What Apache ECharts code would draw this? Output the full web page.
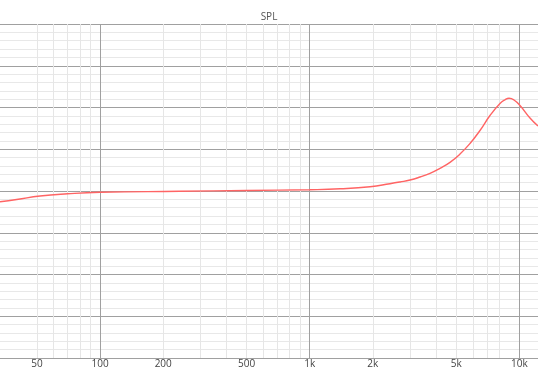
<!DOCTYPE html>
<html><head><meta charset="utf-8">
<script src="https://cdn.jsdelivr.net/npm/echarts@6/dist/echarts.min.js"></script>
<style>html,body{margin:0;padding:0;background:#fff}#c{width:538px;height:382px}</style>
</head><body><div id="c"></div>
<script>
// Frequency (Hz) and SPL (dB)
const freqs = [33.3, 40, 51.7, 70, 100, 240, 500, 1000, 1400, 1939, 2414, 2695, 3008, 3357, 3747, 4181, 4667, 5209, 5813, 6488, 7241, 8083, 8541, 8924, 9426, 10069, 11236, 12268];
const spl   = [77.43, 77.96, 78.80, 79.33, 79.69, 79.93, 80.12, 80.31, 80.53, 81.03, 81.75, 82.16, 82.63, 83.35, 84.24, 85.44, 86.87, 88.86, 91.38, 94.49, 98.08, 100.96, 101.84, 102.20, 101.80, 100.48, 97.49, 95.57];
const minorTicks = [40, 50, 60, 70, 80, 90, 200, 300, 400, 500, 600, 700, 800, 900, 2000, 3000, 4000, 5000, 6000, 7000, 8000, 9000];
const labelTicks = [50, 100, 200, 500, 1000, 2000, 5000, 10000];
const xRange = [33.3, 12270];
const yRange = [40, 120];

const chart = echarts.init(document.getElementById('c'));
const fmt = v => v >= 1000 ? (v / 1000) + 'k' : String(v);
const baseX = { type: 'log', logBase: 10, min: xRange[0], max: xRange[1], position: 'bottom' };
chart.setOption({
  animation: false,
  backgroundColor: '#fff',
  title: {
    text: 'SPL', left: 'center', top: 7,
    textStyle: { fontSize: 10, fontWeight: 'normal', color: '#555', fontFamily: 'Open Sans' }
  },
  grid: { left: 0, right: 0, top: 24, bottom: 24, containLabel: false },
  xAxis: [
    Object.assign({}, baseX, {
      axisLine: { show: false }, axisLabel: { show: false },
      axisTick: { show: false, customValues: minorTicks },
      splitLine: { show: true, showMinLine: false, showMaxLine: false, lineStyle: { color: '#e6e6e6', width: 1 } }
    }),
    Object.assign({}, baseX, {
      axisLine: { show: true, lineStyle: { color: '#a0a0a0', width: 1 } },
      axisTick: { show: false }, axisLabel: { show: false },
      splitLine: { show: true, showMinLine: false, showMaxLine: false, lineStyle: { color: '#a0a0a0', width: 1 } }
    }),
    Object.assign({}, baseX, {
      axisLine: { show: false },
      axisTick: { show: false, customValues: labelTicks },
      axisLabel: { show: true, customValues: labelTicks, formatter: fmt, fontSize: 10, color: '#444', margin: 1, fontFamily: 'Open Sans' },
      splitLine: { show: false }
    })
  ],
  yAxis: {
    type: 'value', min: yRange[0], max: yRange[1], interval: 10,
    axisLine: { show: false }, axisTick: { show: false }, axisLabel: { show: false },
    splitLine: { show: true, lineStyle: { color: '#a0a0a0', width: 1 } },
    minorTick: { show: false, splitNumber: 5 },
    minorSplitLine: { show: true, lineStyle: { color: '#e8e8e8', width: 1 } }
  },
  series: [{
    type: 'line', xAxisIndex: 1,
    data: freqs.map((f, i) => [f, spl[i]]),
    showSymbol: false, smooth: 0.5,
    lineStyle: { color: '#ff6464', width: 1.4 },
    z: 5
  }]
});
</script></body></html>
